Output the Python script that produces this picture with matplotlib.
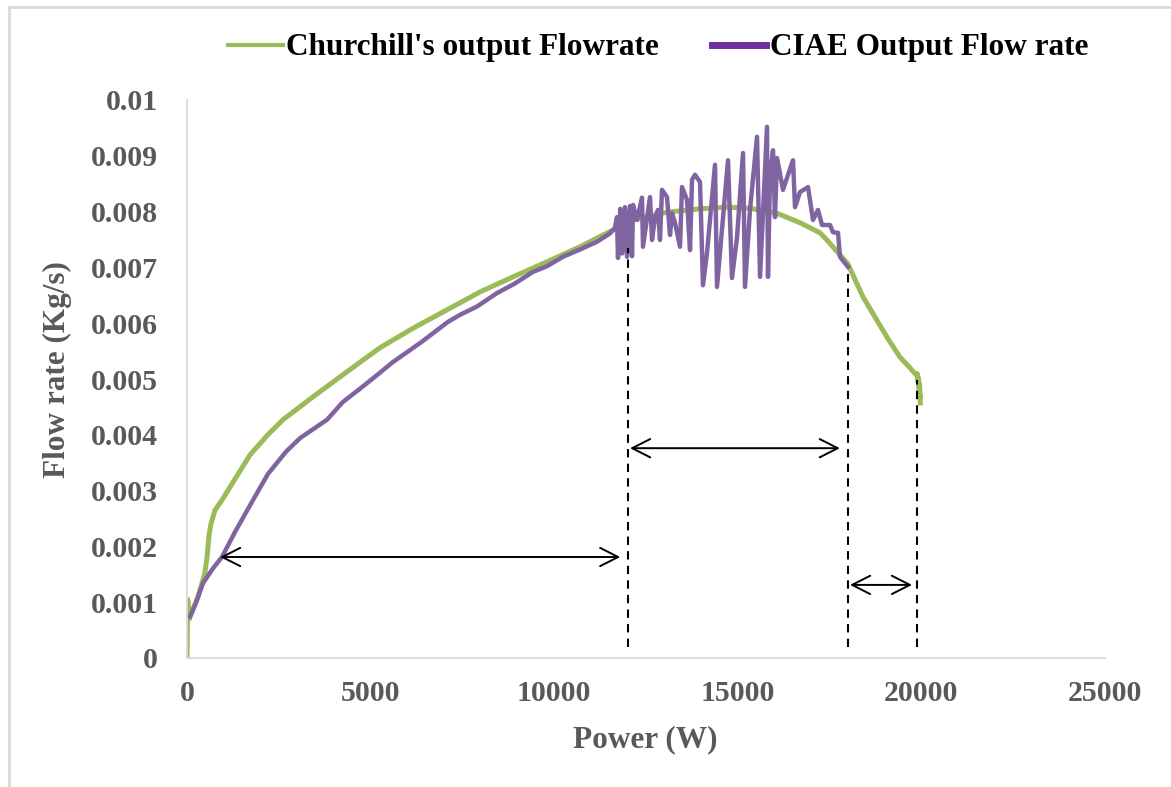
import numpy as np
import matplotlib
matplotlib.use('Agg')
import matplotlib.pyplot as plt
from matplotlib.lines import Line2D

# Churchill's output Flowrate (green)
churchill_power = [0, 20, 60, 300, 480, 545, 600, 650, 762, 953, 1300, 1716, 2200, 2614,
                   3431, 4357, 5256, 6155, 7081, 7979, 8878, 9804, 10703, 11601, 12146,
                   13072, 13971, 14706, 15332, 16068, 16694, 17239, 17429, 18000, 18410,
                   18736, 19063, 19417, 19690, 19820, 19900, 19950, 19960, 19930, 19880,
                   19950, 19970]
churchill_flow = [0, 0.00105, 0.0007, 0.0011, 0.0015, 0.0018, 0.0022, 0.0024, 0.00265,
                  0.00283, 0.0032, 0.00364, 0.0040, 0.00427, 0.00468, 0.00513, 0.00556,
                  0.00591, 0.00624, 0.00656, 0.00683, 0.0071, 0.00737, 0.00767, 0.00785,
                  0.00799, 0.00805, 0.00808, 0.00806, 0.00797, 0.0078, 0.00762, 0.00749,
                  0.00706, 0.00647, 0.00611, 0.00575, 0.00539, 0.0052, 0.0051, 0.00505,
                  0.0049, 0.00465, 0.0049, 0.0051, 0.0048, 0.00457]

# CIAE Output Flow rate (purple)
ciae_power = [82, 250, 436, 700, 953, 1300, 1797, 2206, 2700, 3077, 3813, 4248, 4700,
              5174, 5600, 5991, 6400, 6699, 7100, 7435, 7900, 8442, 8900, 9423, 9800,
              10240, 10700, 11166, 11500, 11650, 11710, 11737, 11800, 11850, 11928,
              11983, 12064, 12120, 12146, 12255, 12391, 12418, 12609, 12664, 12745,
              12827, 12881, 12936, 13072, 13154, 13208, 13290, 13426, 13480, 13617,
              13699, 13753, 13834, 13971, 14052, 14161, 14379, 14434, 14733, 14842,
              14978, 15142, 15196, 15332, 15523, 15605, 15795, 15822, 15877, 15959,
              16013, 16068, 16231, 16503, 16558, 16694, 16912, 17048, 17184, 17293,
              17511, 17593, 17729, 17783, 17999]
ciae_flow = [0.00074, 0.001, 0.00134, 0.0016, 0.00181, 0.00225, 0.00283, 0.0033, 0.0037,
             0.00394, 0.00427, 0.00459, 0.00482, 0.00507, 0.0053, 0.00548, 0.00567,
             0.00582, 0.00602, 0.00615, 0.0063, 0.00654, 0.0067, 0.00692, 0.00702,
             0.00719, 0.00732, 0.00746, 0.0076, 0.0077, 0.0079, 0.00717, 0.00805,
             0.00725, 0.00808, 0.00719, 0.0081, 0.0072, 0.00812, 0.00785, 0.00825,
             0.00737, 0.00826, 0.00749, 0.0079, 0.00803, 0.00749, 0.00839, 0.00826,
             0.00758, 0.00797, 0.0078, 0.00737, 0.00844, 0.00821, 0.00731, 0.00857,
             0.00866, 0.00853, 0.00668, 0.00726, 0.00884, 0.00665, 0.00892, 0.00681,
             0.00753, 0.00905, 0.00665, 0.00803, 0.00934, 0.00683, 0.00952, 0.00683,
             0.00862, 0.0091, 0.0079, 0.00896, 0.00839, 0.00892, 0.00808, 0.00835,
             0.00844, 0.00785, 0.00803, 0.00776, 0.00776, 0.00763, 0.00762, 0.00719,
             0.00701]

# double arrows (x start, x end, y) and dashed markers (x, y top)
arrows = [(900, 11800, 0.00181), (12065, 17780, 0.00376), (18055, 19745, 0.00131)]
dashes = [(12000, 0.00735), (18000, 0.00697), (19880, 0.00498)]

x_ticks = [0, 5000, 10000, 15000, 20000, 25000]
y_ticks = [0, 0.001, 0.002, 0.003, 0.004, 0.005, 0.006, 0.007, 0.008, 0.009, 0.01]
y_ticklabels = ['0', '0.001', '0.002', '0.003', '0.004', '0.005', '0.006', '0.007',
                '0.008', '0.009', '0.01']

plt.rcParams['font.family'] = ['Liberation Serif', 'DejaVu Serif']
plt.rcParams['font.weight'] = 'bold'

W, H = 1171, 787
fig = plt.figure(figsize=(W / 100, H / 100), dpi=100)
ax = fig.add_axes([187 / W, 1 - 658 / H, (1105 - 187) / W, (658 - 100) / H])

ax.plot(churchill_power, churchill_flow, color='#9BBB59', lw=3.6, solid_joinstyle='round')
ax.plot(ciae_power, ciae_flow, color='#8064A2', lw=3.2, solid_joinstyle='round')

for x0, x1, y in arrows:
    ax.annotate('', xy=(x1, y), xytext=(x0, y),
                arrowprops=dict(arrowstyle='<->,head_length=0.65,head_width=0.33',
                                color='black', lw=1.4, mutation_scale=20,
                                shrinkA=0, shrinkB=0))
for x, ytop in dashes:
    ax.plot([x, x], [0.0002, ytop], color='black', lw=1.5, ls=(0, (4, 3)))

ax.set_xlim(0, 25000)
ax.set_ylim(0, 0.01)
ax.set_xticks(x_ticks)
ax.set_xticklabels([str(t) for t in x_ticks])
ax.set_yticks(y_ticks)
ax.set_yticklabels(y_ticklabels)
ax.tick_params(axis='both', length=0, labelsize=21.5, labelcolor='#595959')
ax.tick_params(axis='y', pad=21)
ax.tick_params(axis='x', pad=16)
for s in ['top', 'right']:
    ax.spines[s].set_visible(False)
for s in ['left', 'bottom']:
    ax.spines[s].set_color('#D9D9D9')
    ax.spines[s].set_linewidth(1.3)

fig.text(645 / W, 1 - 740 / H, 'Power (W)', ha='center', va='center',
         fontsize=22.5, color='#595959', fontweight='bold')
fig.text(57 / W, 1 - 370 / H, 'Flow rate (Kg/s)', ha='center', va='center',
         rotation=90, fontsize=22.5, color='#595959', fontweight='bold')

handles = [Line2D([], [], color='#9BBB59', lw=3),
           Line2D([], [], color='#7030A0', lw=5)]
fig.legend(handles, ["Churchill's output Flowrate", 'CIAE Output Flow rate'],
           loc='center', bbox_to_anchor=(658 / W, 1 - 48 / H), ncol=2, frameon=False,
           fontsize=22.5, handlelength=1.75, handletextpad=0.1, columnspacing=1.7)

# outer chart frame (top and left edges visible)
fig.add_artist(Line2D([9 / W, 1], [1 - 7 / H, 1 - 7 / H], transform=fig.transFigure,
                      color='#D9D9D9', lw=2))
fig.add_artist(Line2D([9 / W, 9 / W], [0, 1 - 7 / H], transform=fig.transFigure,
                      color='#D9D9D9', lw=2))

fig.savefig('out.png', dpi=100)
